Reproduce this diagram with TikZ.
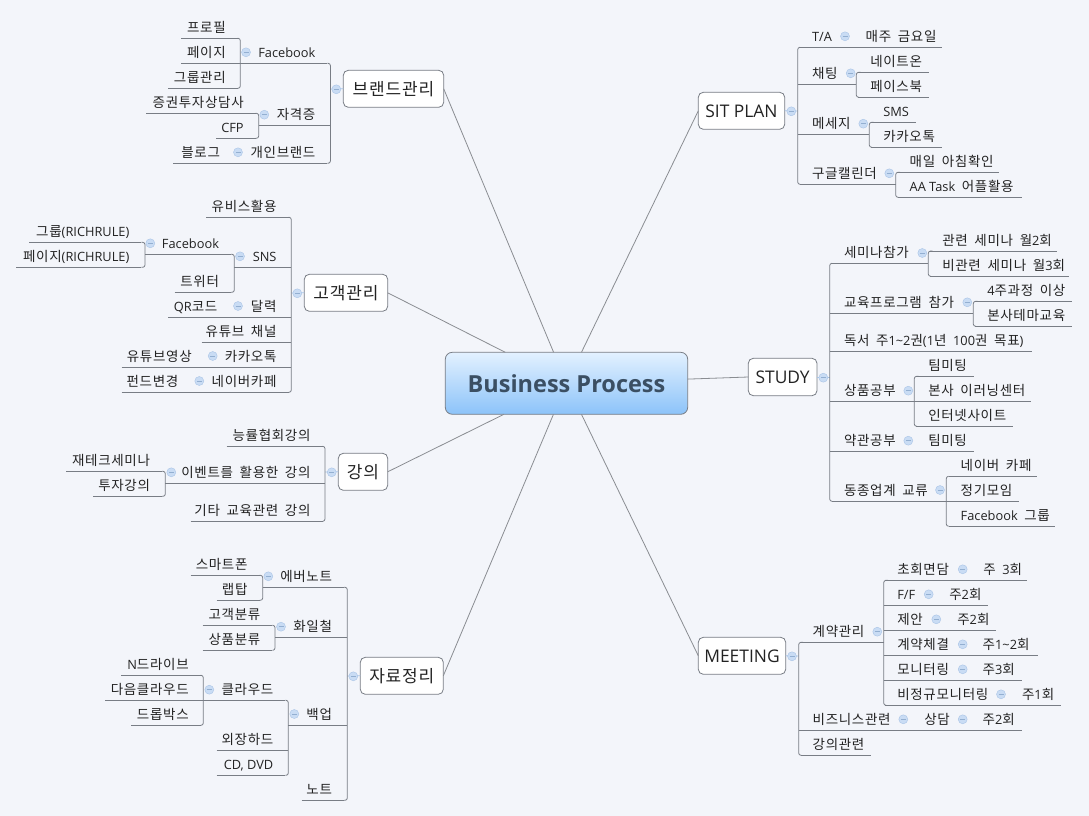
\documentclass[tikz,border=0pt]{standalone}
\usepackage{fontspec}
\setmainfont{Noto Sans CJK KR}[LetterSpace=5,WordSpace=1.8]
\newfontfamily\latf{Open Sans}
\definecolor{bgc}{HTML}{F3F5FA}
\definecolor{linec}{HTML}{787D85}
\definecolor{linkc}{HTML}{8A8D92}
\definecolor{stubc}{HTML}{A9C4E6}
\definecolor{icf}{HTML}{C9DCF4}
\definecolor{icm}{HTML}{93AFD1}
\definecolor{txtc}{HTML}{222222}
\definecolor{roott}{HTML}{3B4F63}
\definecolor{roota}{HTML}{E3F1FF}
\definecolor{rootb}{HTML}{8CC3F9}
\newcommand{\ltn}[1]{{\latf\fontsize{12.8}{15}\selectfont #1}}
\newcommand{\ltb}[1]{{\latf\fontsize{17.4}{20}\selectfont #1}}
\newcounter{icn}
\tikzset{
  leaf/.style={inner xsep=12pt,inner ysep=3pt,outer sep=0pt,text height=10pt,text depth=3pt,text=txtc,font=\fontsize{13.5}{15}\selectfont},
  conn/.style={draw=linec,line width=0.8pt},
  spine/.style={conn,rounded corners=2.3pt},
  link/.style={draw=linkc,line width=0.8pt},
  stub/.style={draw=stubc,line width=0.8pt},
  branch/.style={draw=linec,fill=white,rounded corners=5pt,line width=0.8pt,outer sep=0pt,inner sep=0pt,text=txtc,font=\fontsize{17}{20}\selectfont,anchor=north west},
  rootbox/.style={draw=linec,rounded corners=7pt,top color=roota,bottom color=rootb,line width=0.8pt,outer sep=0pt,inner sep=0pt,minimum width=242.4pt,minimum height=62pt,text=roott,anchor=north west,font=\latf\bfseries\fontsize{23.5}{28}\selectfont},
  iconn/.style={circle,draw=stubc,fill=icf,line width=0.4pt,minimum size=9pt,inner sep=0pt,outer sep=0pt,
    path picture={\draw[icm,line width=0.8pt] (path picture bounding box.center) ++(-2.5,0) -- ++(5,0);}},
}
\newcommand{\leafR}[5]{%
  \pgfmathsetmacro\bw{#3-#2-24}%
  \node[leaf,anchor=south west] (#1) at (#2,#4) {\makebox[\bw pt][l]{#5}};
  \draw[conn] (#1.south west) -- (#1.south east);
}
\newcommand{\leafL}[5]{%
  \pgfmathsetmacro\bw{#3-#2-24}%
  \node[leaf,anchor=south west] (#1) at (#2,#4) {\makebox[\bw pt][r]{#5}};
  \draw[conn] (#1.south west) -- (#1.south east);
}
\newcommand{\grpR}[3]{\draw[spine] (#2.south west) -| (#1) |- (#3.south west);}
\newcommand{\grpL}[3]{\draw[spine] (#2.south east) -| (#1) |- (#3.south east);}
\newcommand{\midR}[2]{\foreach \mm in {#2}{\draw[conn] (#1 |- \mm.south west) -- (\mm.south west);}}
\newcommand{\midL}[2]{\foreach \mm in {#2}{\draw[conn] (#1 |- \mm.south east) -- (\mm.south east);}}
\newcommand{\ic}[2]{\stepcounter{icn}\node[iconn] (ic\theicn) at (#1,#2) {};}
\newcommand{\bbox}[6]{\pgfmathsetmacro\bw{#4-#2}\pgfmathsetmacro\bh{#5-#3}%
  \node[branch,minimum width=\bw pt,minimum height=\bh pt] (#1) at (#2,#3) {#6};}
\begin{document}
\begin{tikzpicture}[x=1pt,y=-1pt]
\fill[bgc] (0,0) rectangle (1089,816);
\useasboundingbox (0,0) rectangle (1089,816);

% central topic and main branches
\node[rootbox] (root) at (445.3,352.3) {Business Process};
\bbox{bA}{343.3}{70.3}{443.7}{107.3}{브랜드관리}
\bbox{bB}{304.3}{274.3}{387.7}{311.3}{고객관리}
\bbox{bC}{338.3}{453.3}{387.7}{490.3}{강의}
\bbox{bD}{360.3}{657.3}{443.3}{694.3}{자료정리}
\bbox{bE}{698.3}{92.3}{784.7}{129.3}{\ltb{SIT PLAN}}
\bbox{bF}{748.3}{358.3}{817}{395.7}{\ltb{STUDY}}
\bbox{bG}{698.3}{637.3}{785.7}{674.3}{\ltb{MEETING}}
\foreach \bn/\an in {bA/east,bB/east,bC/east,bD/east,bE/west,bF/west,bG/west}
  \draw[link] (root) -- (\bn.\an);

\coordinate (sA) at (330.4,89);
\coordinate (sB) at (291.3,293);
\coordinate (sC) at (325,472);
\coordinate (sD) at (347.3,676);
\coordinate (sE) at (797.7,111);
\coordinate (sF) at (829.7,377);
\coordinate (sG) at (798.7,656);
\foreach \bn/\sn/\an in {bA/sA/west,bB/sB/west,bC/sC/west,bD/sD/west,bE/sE/east,bF/sF/east,bG/sG/east}
  \draw[stub] (\bn.\an) -- (\sn);

% 브랜드관리
\leafL{a1}{240.3}{327.4}{63.3}{\ltn{Facebook}}
\leafL{a11}{181}{237.7}{38.3}{프로필}
\leafL{a12}{181}{237.7}{63.3}{페이지}
\leafL{a13}{168}{237.7}{88.3}{그룹관리}
\grpL{a1.south west}{a11}{a13}\midL{a1.south west}{a12}
\leafL{a2}{258.7}{327.4}{125.7}{자격증}
\leafL{a21}{146}{255.7}{113.3}{증권투자상담사}
\leafL{a22}{216}{255.7}{138.3}{\ltn{CFP}}
\grpL{a2.south west}{a21}{a22}
\leafL{a3}{232}{327.4}{163.3}{개인브랜드}
\leafL{a31}{173}{232}{163.3}{블로그}
\grpL{sA}{a1}{a3}\midL{sA}{a2}
\ic{246}{52.3}\ic{264.3}{114.7}\ic{238}{152.3}\ic{336.3}{89.3}

% 고객관리
\leafL{b1}{206}{288.5}{217.3}{유비스활용}
\leafL{b2}{234.3}{288.5}{267.3}{\ltn{SNS}}
\leafL{b21}{145}{231}{254.3}{\ltn{Facebook}}
\leafL{b211}{29.3}{141.3}{242.3}{그룹\ltn{(RICHRULE)}}
\leafL{b212}{16}{141.3}{267.3}{페이지\ltn{(RICHRULE)}}
\grpL{b21.south west}{b211}{b212}
\leafL{b22}{174.7}{231}{292.3}{트위터}
\grpL{b2.south west}{b21}{b22}
\leafL{b3}{229.3}{288.5}{317.3}{달력}
\leafL{b31}{168.3}{229.3}{317.3}{\ltn{QR}코드}
\leafL{b4}{201.7}{288.5}{342.3}{유튜브 채널}
\leafL{b5}{203.7}{288.5}{367.3}{카카오톡}
\leafL{b51}{121.7}{203.7}{367.3}{유튜브영상}
\leafL{b6}{190.3}{288.5}{392.3}{네이버카페}
\leafL{b61}{121.7}{190.3}{392.3}{펀드변경}
\grpL{sB}{b1}{b6}\midL{sB}{b2,b3,b4,b5}
\ic{150.3}{243.3}\ic{240}{256.3}\ic{238}{306}\ic{212.7}{356}\ic{199.3}{381}\ic{297.3}{293.3}

% 강의
\leafL{c1}{226.7}{322.5}{446.3}{능률협회강의}
\leafL{c2}{165.3}{322.5}{483.3}{이벤트를 활용한 강의}
\leafL{c21}{66}{162}{471.3}{재테크세미나}
\leafL{c22}{93.3}{162}{496.3}{투자강의}
\grpL{c2.south west}{c21}{c22}
\leafL{c3}{190.7}{322.5}{521.3}{기타 교육관련 강의}
\grpL{sC}{c1}{c3}\midL{sC}{c2}
\ic{171.3}{472.3}\ic{331.7}{472.3}

% 자료정리
\leafL{d1}{262.7}{344}{587.3}{에버노트}
\leafL{d11}{190.7}{259.5}{575.3}{스마트폰}
\leafL{d12}{216.7}{259.5}{600.3}{랩탑}
\grpL{d1.south west}{d11}{d12}
\leafL{d2}{275}{344}{637.7}{화일철}
\leafL{d21}{202.7}{272.3}{625.3}{고객분류}
\leafL{d22}{202.7}{272.3}{650.3}{상품분류}
\grpL{d2.south west}{d21}{d22}
\leafL{d3}{288.3}{344}{725.3}{백업}
\leafL{d31}{203.3}{285.3}{700.3}{클라우드}
\leafL{d311}{121}{200.7}{675.3}{\ltn{N}드라이브}
\leafL{d312}{105.3}{200.7}{700.3}{다음클라우드}
\leafL{d313}{131}{200.7}{725.3}{드롭박스}
\grpL{d31.south west}{d311}{d313}\midL{d31.south west}{d312}
\leafL{d32}{216.7}{285.3}{750.3}{외장하드}
\leafL{d33}{216.7}{285.3}{775.3}{\ltn{CD, DVD}}
\grpL{d3.south west}{d31}{d33}\midL{d3.south west}{d32}
\leafL{d4}{301.7}{344}{800.3}{노트}
\grpL{sD}{d1}{d4}\midL{sD}{d2,d3}
\ic{268.3}{576.3}\ic{281}{626.7}\ic{294.3}{714}\ic{209.3}{689.7}\ic{353.3}{676.3}

% SIT PLAN
\leafR{e1}{800}{853.7}{47.3}{\ltn{T/A}}
\leafR{e11}{853.7}{941.7}{47.3}{매주 금요일}
\leafR{e2}{800}{856.3}{84.7}{채팅}
\leafR{e21}{858.3}{929}{72.3}{네이트온}
\leafR{e22}{858.3}{929}{97.3}{페이스북}
\grpR{e2.south east}{e21}{e22}
\leafR{e3}{800}{869.3}{134.7}{메세지}
\leafR{e31}{871.3}{916}{122.3}{\ltn{SMS}}
\leafR{e32}{871.3}{941.7}{147.3}{카카오톡}
\grpR{e3.south east}{e31}{e32}
\leafR{e4}{800}{895.7}{184.3}{구글캘린더}
\leafR{e41}{897.7}{999}{172.3}{매일 아침확인}
\leafR{e42}{897.7}{1022}{197.3}{\ltn{AA Task} 어플활용}
\grpR{e4.south east}{e41}{e42}
\grpR{sE}{e1}{e4}\midR{sE}{e2,e3}
\ic{845}{36.3}\ic{850.7}{73.3}\ic{863.3}{123.7}\ic{889.3}{173.3}\ic{791.3}{111.3}

% STUDY
\leafR{f1}{832}{928.3}{263.3}{세미나참가}
\leafR{f11}{930.3}{1056.7}{251}{관련 세미나 월\ltn{2}회}
\leafR{f12}{930.3}{1069.3}{276.3}{비관련 세미나 월\ltn{3}회}
\grpR{f1.south east}{f11}{f12}
\leafR{f2}{832}{973.3}{313.3}{교육프로그램 참가}
\leafR{f21}{975.3}{1072}{301.3}{\ltn{4}주과정 이상}
\leafR{f22}{975.3}{1072}{326.3}{본사테마교육}
\grpR{f2.south east}{f21}{f22}
\leafR{f3}{832}{1031.7}{351.3}{독서 주\ltn{1\textasciitilde2}권\ltn{(1}년 \ltn{100}권 목표\ltn{)}}
\leafR{f4}{832}{914.3}{401.3}{상품공부}
\leafR{f41}{916.3}{974}{376.3}{팀미팅}
\leafR{f42}{916.3}{1030.7}{401.3}{본사 이러닝센터}
\leafR{f43}{916.3}{1013.3}{426.3}{인터넷사이트}
\grpR{f4.south east}{f41}{f43}\midR{f4.south east}{f42}
\leafR{f5}{832}{916.3}{451.3}{약관공부}
\leafR{f51}{916.3}{974}{451.3}{팀미팅}
\leafR{f6}{832}{946.3}{501.3}{동종업계 교류}
\leafR{f61}{948.7}{1036.7}{476.3}{네이버 카페}
\leafR{f62}{948.7}{1019}{501.3}{정기모임}
\leafR{f63}{948.7}{1054.7}{526.3}{\ltn{Facebook} 그룹}
\grpR{f6.south east}{f61}{f63}\midR{f6.south east}{f62}
\grpR{sF}{f1}{f6}\midR{sF}{f2,f3,f4,f5}
\ic{922.3}{253}\ic{967.3}{302.3}\ic{908.3}{390.7}\ic{908.3}{440.7}\ic{940}{490}\ic{823.3}{377.7}

% MEETING
\leafR{g1}{800.7}{883.7}{642.3}{계약관리}
\leafR{g11}{885.3}{971.3}{580.3}{초회면담}
\leafR{g111}{971.3}{1027}{580.3}{주 \ltn{3}회}
\leafR{g12}{885.3}{937.3}{605.3}{\ltn{F/F}}
\leafR{g121}{937.3}{987.7}{605.3}{주\ltn{2}회}
\leafR{g13}{885.3}{945.3}{630.3}{제안}
\leafR{g131}{945.3}{995.7}{630.3}{주\ltn{2}회}
\leafR{g14}{885.3}{970.7}{655.3}{계약체결}
\leafR{g141}{970.7}{1037.7}{655.3}{주\ltn{1\textasciitilde2}회}
\leafR{g15}{885.3}{970.7}{680.3}{모니터링}
\leafR{g151}{970.7}{1022}{680.3}{주\ltn{3}회}
\leafR{g16}{885.3}{1010}{705.3}{비정규모니터링}
\leafR{g161}{1010}{1061.3}{705.3}{주\ltn{1}회}
\grpR{g1.south east}{g11}{g16}\midR{g1.south east}{g12,g13,g14,g15}
\leafR{g2}{800.7}{912.3}{730.3}{비즈니스관련}
\leafR{g21}{912.3}{970.7}{730.3}{상담}
\leafR{g211}{970.7}{1022}{730.3}{주\ltn{2}회}
\leafR{g3}{800.7}{870.7}{755.3}{강의관련}
\grpR{sG}{g1}{g3}\midR{sG}{g2}
\ic{962.7}{569.3}\ic{928.7}{594.3}\ic{936.3}{619.3}\ic{962.7}{644.3}\ic{962.7}{669.3}\ic{1001}{694.3}
\ic{877.3}{631.7}\ic{903.3}{719.3}\ic{962.7}{719.3}\ic{792}{656.3}
\end{tikzpicture}
\end{document}
